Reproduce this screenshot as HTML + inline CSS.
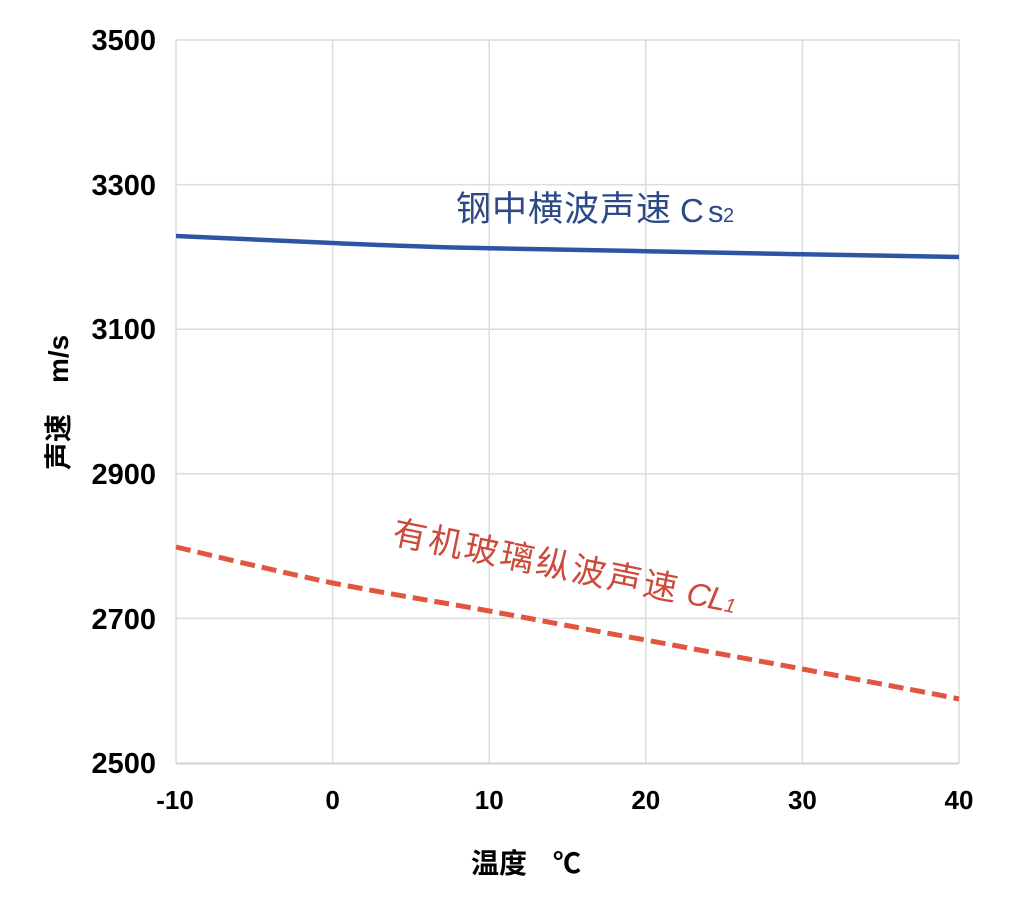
<!DOCTYPE html>
<html>
<head>
<meta charset="utf-8">
<style>
  html, body { margin: 0; padding: 0; background: #ffffff; }
  body { width: 1024px; height: 897px; overflow: hidden; }
  svg { display: block; }
  text { font-family: "Liberation Sans", "Noto Sans CJK SC", sans-serif; }
</style>
</head>
<body>
<svg width="1024" height="897" viewBox="0 0 1024 897" xmlns="http://www.w3.org/2000/svg">
  <rect x="0" y="0" width="1024" height="897" fill="#ffffff"/>

  <!-- grid -->
  <g stroke="#dcdcdc" stroke-width="1.5" fill="none">
    <line x1="176" y1="40" x2="959" y2="40"/>
    <line x1="176" y1="184.6" x2="959" y2="184.6"/>
    <line x1="176" y1="329.2" x2="959" y2="329.2"/>
    <line x1="176" y1="473.8" x2="959" y2="473.8"/>
    <line x1="176" y1="618.4" x2="959" y2="618.4"/>
    <line x1="176" y1="40" x2="176" y2="763"/>
    <line x1="332.6" y1="40" x2="332.6" y2="763"/>
    <line x1="489.2" y1="40" x2="489.2" y2="763"/>
    <line x1="645.8" y1="40" x2="645.8" y2="763"/>
    <line x1="802.4" y1="40" x2="802.4" y2="763"/>
    <line x1="959" y1="40" x2="959" y2="763"/>
  </g>
  <line x1="176" y1="763.5" x2="959" y2="763.5" stroke="#d2d2d2" stroke-width="2"/>

  <!-- y tick labels -->
  <g font-size="29" font-weight="bold" fill="#000" text-anchor="end">
    <text x="156" y="50">3500</text>
    <text x="156" y="195">3300</text>
    <text x="156" y="339">3100</text>
    <text x="156" y="484">2900</text>
    <text x="156" y="629">2700</text>
    <text x="156" y="773">2500</text>
  </g>

  <!-- x tick labels -->
  <g font-size="26" font-weight="bold" fill="#000" text-anchor="middle">
    <text x="175" y="809">-10</text>
    <text x="332.6" y="809">0</text>
    <text x="489.2" y="809">10</text>
    <text x="645.8" y="809">20</text>
    <text x="802.4" y="809">30</text>
    <text x="959" y="809">40</text>
  </g>

  <!-- axis titles -->
  <text x="471" y="873" font-size="28" font-weight="bold" fill="#000">温度<tspan x="553">℃</tspan></text>
  <g transform="translate(68,470) rotate(-90)">
    <text x="0" y="0" font-size="28" font-weight="bold" fill="#000">声速<tspan x="87">m/s</tspan></text>
  </g>

  <!-- blue series -->
  <path d="M176,236 C230,238.5 290,241 332.6,243 C400,246 440,247.5 489.2,248.3 C560,249.6 600,250.3 645.8,251.2 C720,252.6 760,253.6 802.4,254.3 C870,255.5 920,256.3 959,257"
        fill="none" stroke="#2e55a3" stroke-width="4.5" stroke-linecap="butt"/>

  <!-- red series -->
  <path d="M176,547 C230,560 290,574 332.6,583 C400,596 440,602 489.2,611 C560,624 600,632 645.8,640 C720,654 760,661 802.4,669 C870,682 920,691 959,699"
        fill="none" stroke="#e2553f" stroke-width="5" stroke-dasharray="15 7" stroke-linecap="butt"/>

  <!-- blue annotation -->
  <text x="456" y="221" font-size="35" fill="#2c4a87" letter-spacing="1">钢中横波声速</text>
  <text y="222" fill="#2c4a87"><tspan x="680" font-size="33">C</tspan><tspan x="708" font-size="31">s</tspan><tspan x="723" font-size="20">2</tspan></text>

  <!-- red annotation -->
  <g transform="translate(391,543.4) rotate(11.5)">
    <text x="0" y="0" font-size="34" fill="#cc4a3a" letter-spacing="2.5">有机玻璃纵波声速</text>
    <text y="0" fill="#cc4a3a" font-style="italic"><tspan x="300" font-size="32">C</tspan><tspan x="322" font-size="32">L</tspan><tspan x="339" font-size="20">1</tspan></text>
  </g>
</svg>
</body>
</html>
